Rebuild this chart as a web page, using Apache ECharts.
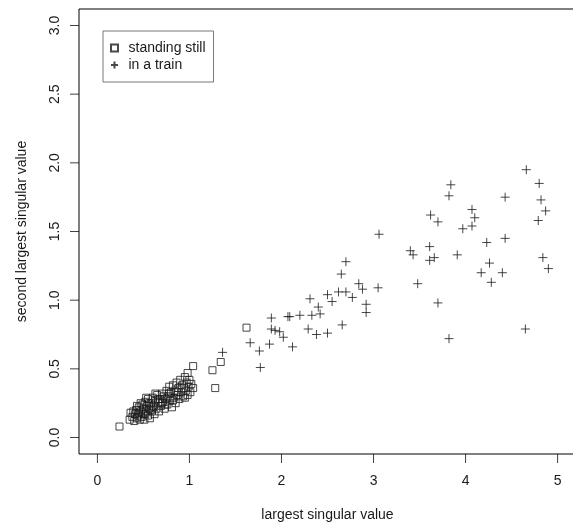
<!DOCTYPE html>
<html>
<head>
<meta charset="utf-8">
<script src="https://cdn.jsdelivr.net/npm/echarts@6/dist/echarts.min.js"></script>
<style>
  html, body { margin: 0; padding: 0; background: #fff; }
  #chart { width: 573px; height: 530px; }
</style>
</head>
<body>
<div id="chart"></div>
<script>
// Singular values per recording window
const stillX = [0.24,0.35,0.36,0.38,0.40,0.41,0.42,0.43,0.44,0.45,0.46,0.47,0.48,0.49,0.50,0.50,0.51,0.52,0.53,0.54,
  0.55,0.55,0.56,0.57,0.58,0.59,0.60,0.61,0.62,0.63,0.64,0.65,0.66,0.67,0.68,0.69,0.70,0.71,0.72,0.73,
  0.74,0.75,0.76,0.77,0.78,0.79,0.80,0.81,0.82,0.83,0.84,0.85,0.86,0.87,0.88,0.89,0.90,0.91,0.92,0.93,
  0.94,0.95,0.96,0.97,0.98,0.98,0.99,1.00,1.01,1.02,1.04,1.04,1.25,1.28,1.34,1.62,
  0.39,0.43,0.47,0.52,0.56,0.60,0.63,0.66,0.70,0.74,0.78,0.82,0.86,0.95,0.58,0.53,0.45];
const stillY = [0.08,0.13,0.18,0.15,0.12,0.17,0.20,0.14,0.16,0.22,0.13,0.19,0.15,0.24,0.17,0.21,0.13,0.26,0.19,0.23,
  0.16,0.28,0.21,0.14,0.25,0.19,0.29,0.23,0.17,0.27,0.21,0.31,0.25,0.19,0.28,0.23,0.32,0.26,0.30,0.21,
  0.28,0.34,0.24,0.30,0.37,0.27,0.33,0.22,0.38,0.29,0.34,0.25,0.40,0.31,0.36,0.28,0.42,0.33,0.38,0.30,
  0.36,0.44,0.34,0.40,0.31,0.47,0.37,0.42,0.33,0.39,0.52,0.36,0.49,0.36,0.55,0.80,
  0.19,0.23,0.25,0.17,0.25,0.22,0.32,0.28,0.25,0.24,0.32,0.27,0.33,0.29,0.20,0.29,0.18];

const trainX = [1.36,1.66,1.76,1.77,1.87,1.89,1.89,1.93,1.98,2.02,2.07,2.09,2.12,2.20,2.29,2.31,2.33,2.38,2.40,2.42,
  2.50,2.50,2.55,2.62,2.65,2.66,2.70,2.70,2.77,2.84,2.88,2.92,2.92,3.05,3.06,3.40,3.43,3.48,3.61,3.61,
  3.66,3.62,3.70,3.70,3.82,3.82,3.84,3.91,3.97,4.07,4.10,4.07,4.23,4.26,4.17,4.28,4.40,4.43,4.43,4.66,
  4.65,4.80,4.82,4.87,4.79,4.84,4.90];
const trainY = [0.62,0.69,0.63,0.51,0.68,0.87,0.79,0.78,0.77,0.73,0.88,0.88,0.66,0.89,0.79,1.01,0.89,0.75,0.95,0.90,
  0.76,1.04,0.99,1.06,1.19,0.82,1.28,1.06,1.02,1.12,1.08,0.97,0.91,1.09,1.48,1.36,1.33,1.12,1.39,1.29,
  1.31,1.62,1.57,0.98,0.72,1.76,1.84,1.33,1.52,1.66,1.60,1.54,1.42,1.27,1.20,1.13,1.20,1.45,1.75,1.95,
  0.79,1.85,1.73,1.65,1.58,1.31,1.23];

const xTicks = [0, 1, 2, 3, 4, 5];
const yTicks = [0, 0.5, 1, 1.5, 2, 2.5, 3];

const seriesNames = ['standing still', 'in a train'];

const FONT = 'Liberation Sans, Arial, Helvetica, sans-serif';
const INK = '#1a1a1a';

const X_RANGE = { min: -0.2, max: 5.2 };
const Y_RANGE = { min: -0.12, max: 3.12 };
const TICK_LEN = 9;

const pairs = (xs, ys) => xs.map((x, i) => [x, ys[i]]);

const SQUARE = 'path://M0,0L10,0L10,10L0,10Z';
const PLUS = 'path://M0,5L10,5M5,0L5,10';

// Outward tick marks, placed on the frame edges through the axis scales
const tickSeries = (data, size, offset) => ({
  type: 'scatter', data: data, symbol: 'rect', symbolSize: size, symbolOffset: offset,
  itemStyle: { color: '#111' }, clip: false, silent: true, z: 5,
  emphasis: { disabled: true }, tooltip: { show: false }
});

const chart = echarts.init(document.getElementById('chart'), null, { renderer: 'canvas' });

chart.setOption({
  animation: false,
  backgroundColor: '#fff',
  grid: {
    left: 79, top: 9, width: 497, height: 445,
    outerBoundsMode: 'none',
    show: true, borderColor: '#000', borderWidth: 1
  },
  xAxis: Object.assign({
    type: 'value', position: 'bottom',
    name: 'largest singular value', nameLocation: 'middle', nameGap: 54,
    nameTextStyle: { fontFamily: FONT, fontSize: 14, color: INK },
    axisLine: { show: false, onZero: false },
    axisTick: { show: false },
    axisLabel: { customValues: xTicks, margin: 20, fontFamily: FONT, fontSize: 14, color: INK,
                 formatter: v => String(v) },
    splitLine: { show: false }
  }, X_RANGE),
  yAxis: Object.assign({
    type: 'value', position: 'left',
    name: 'second largest singular value', nameLocation: 'middle', nameGap: 50, nameRotate: 90,
    nameTextStyle: { fontFamily: FONT, fontSize: 14, color: INK },
    axisLine: { show: false, onZero: false },
    axisTick: { show: false },
    axisLabel: { customValues: yTicks, margin: 17, rotate: 90, fontFamily: FONT, fontSize: 14, color: INK,
                 formatter: v => v.toFixed(1) },
    splitLine: { show: false }
  }, Y_RANGE),
  legend: {
    data: seriesNames,
    orient: 'vertical', left: 103, top: 31,
    padding: [9, 8, 9, 7],
    itemWidth: 18, itemHeight: 7, itemGap: 1,
    borderColor: '#777', borderWidth: 1,
    textStyle: { fontFamily: FONT, fontSize: 14, color: INK, lineHeight: 16 },
    selectedMode: false
  },
  series: [
    {
      name: seriesNames[0], type: 'scatter',
      data: pairs(stillX, stillY),
      symbol: SQUARE, symbolSize: 7, symbolKeepAspect: true,
      itemStyle: { color: 'rgba(0,0,0,0)', borderColor: INK, borderWidth: 1 },
      emphasis: { disabled: true }, silent: true
    },
    {
      name: seriesNames[1], type: 'scatter',
      data: pairs(trainX, trainY),
      symbol: PLUS, symbolSize: 9, symbolKeepAspect: true,
      itemStyle: { color: 'rgba(0,0,0,0)', borderColor: INK, borderWidth: 1 },
      emphasis: { disabled: true }, silent: true
    },
    tickSeries(xTicks.map(v => [v, Y_RANGE.min]), [1, TICK_LEN], [0, TICK_LEN / 2]),
    tickSeries(yTicks.map(v => [X_RANGE.min, v]), [TICK_LEN, 1], [-TICK_LEN / 2, 0])
  ]
});
</script>
</body>
</html>
